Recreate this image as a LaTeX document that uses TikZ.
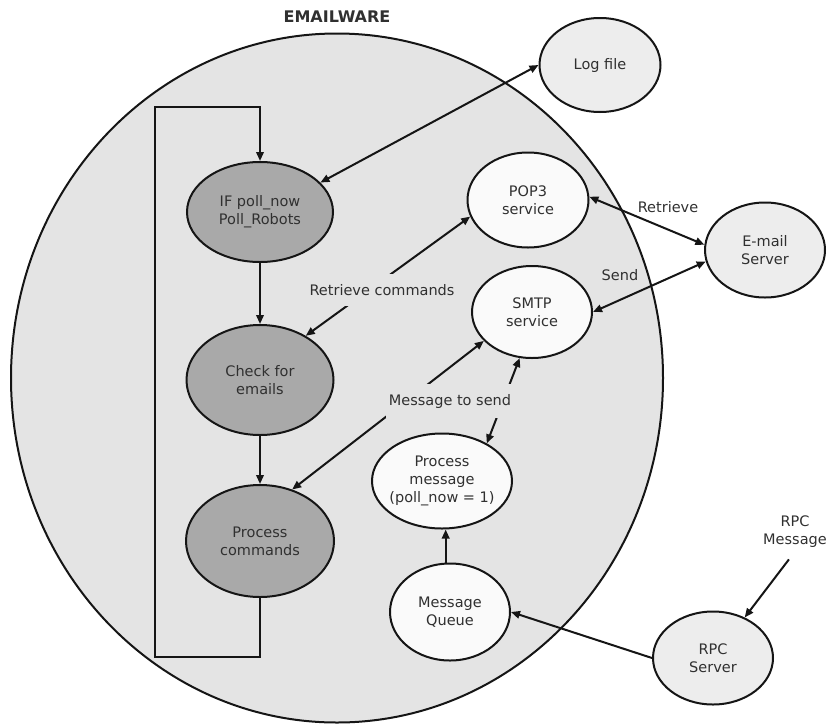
\documentclass[tikz,border=0pt]{standalone}
\usepackage{fontspec}
\setmainfont{DejaVu Sans}
\usetikzlibrary{shapes.geometric,arrows.meta}
\definecolor{bgc}{HTML}{E4E4E4}
\definecolor{darkc}{HTML}{A9A9A9}
\definecolor{outc}{HTML}{EDEDED}
\definecolor{innc}{HTML}{FAFAFA}
\definecolor{txt}{HTML}{303030}
\definecolor{lin}{HTML}{151515}
\begin{document}
\begin{tikzpicture}[x=1pt,y=-1pt,
  every node/.style={font=\fontsize{14.5}{18}\selectfont, text=txt},
  bub/.style={ellipse, draw=lin, line width=2pt, inner ysep=0pt, inner xsep=-18pt, align=center},
  dark/.style={bub, fill=darkc},
  innr/.style={bub, fill=innc},
  outr/.style={bub, fill=outc},
  tip/.tip={Triangle[length=9pt,width=7.5pt]},
  conn/.style={draw=lin, line width=2pt, -tip},
  biconn/.style={draw=lin, line width=2pt, tip-tip},
  gaplabel/.style={fill=bgc, inner xsep=3pt, inner ysep=10pt}]
\useasboundingbox (0,0) rectangle (827,726);
% container
\node[ellipse, draw=lin, line width=2pt, fill=bgc, inner sep=0pt,
      minimum width=652pt, minimum height=689pt] (ew) at (337,378) {};
\node[font=\bfseries\fontsize{16}{19}\selectfont] (title) at (337,17) {EMAILWARE};
% nodes
\node[dark, minimum width=146pt, minimum height=100pt] (ifp) at (260,212) {IF poll\_now\\Poll\_Robots};
\node[dark, minimum width=147pt, minimum height=110pt] (chk) at (260,380) {Check for\\emails};
\node[dark, minimum width=148pt, minimum height=112pt] (pc) at (260,541) {Process\\commands};
\node[outr, minimum width=121pt, minimum height=94pt] (log) at (600,65) {Log file};
\node[innr, minimum width=121pt, minimum height=95pt] (pop) at (528,200) {POP3\\service};
\node[innr, minimum width=120pt, minimum height=92pt] (smtp) at (532,312) {SMTP\\service};
\node[outr, minimum width=120pt, minimum height=95pt] (mail) at (765,250) {E-mail\\Server};
\node[innr, minimum width=140pt, minimum height=95pt] (pm) at (442,481) {Process\\message\\(poll\_now = 1)};
\node[innr, minimum width=120pt, minimum height=97pt] (mq) at (450,612) {Message\\Queue};
\node[outr, minimum width=120pt, minimum height=93pt] (rpc) at (713,658) {RPC\\Server};
\node[align=center] (rpcmsg) at (795,532) {RPC\\Message};
% loop
\coordinate (lb) at (155,657);
\coordinate (lt) at (155,107);
\draw[conn] (pc.south) |- (lb) -- (lt) -| (ifp.north);
\draw[conn] (ifp.south) -- (chk.north);
\draw[conn] (chk.south) -- (pc.north);
% connectors
\draw[biconn] (log.west) -- (ifp.26);
\draw[biconn] (pop.196) -- (chk.44);
\draw[biconn] (smtp.211) -- (pc.58);
\draw[biconn] (smtp.255) -- (pm.40);
\draw[biconn] (pop.3) -- (mail.175);
\draw[biconn] (smtp.0) -- (mail.191);
\draw[conn] (mq.95) -- (mq.95 |- pm.south);
\draw[conn] (rpc.west) -- (mq.east);
\draw[conn, shorten <=10pt] (rpcmsg.south) -- (rpc.52);
% labels
\node[gaplabel] (lrc) at (382,290) {Retrieve commands};
\node[gaplabel] (lms) at (450,401) {Message to send};
\node (lret) at (668,207) {Retrieve};
\node (lsend) at (620,275) {Send};
\end{tikzpicture}
\end{document}
